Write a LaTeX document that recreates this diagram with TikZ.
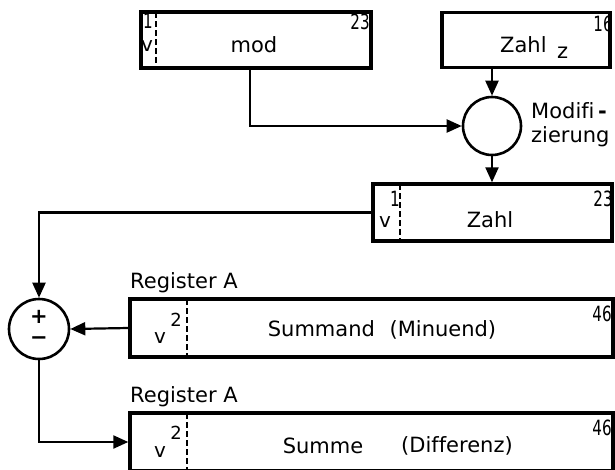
\documentclass[tikz,border=0pt]{standalone}
\usepackage{fontspec}
\setmainfont{DejaVu Sans}[Ligatures=NoCommon]
\newfontfamily\numfont[FakeStretch=0.72]{DejaVu Sans}
\usetikzlibrary{arrows.meta}
\begin{document}
\begin{tikzpicture}[x=1pt,y=-1pt,
  reg/.style={draw,line width=3.4pt,rectangle,inner sep=0pt},
  opc/.style={draw,line width=2.6pt,circle,inner sep=0pt,minimum size=58pt},
  conn/.style={line width=2.2pt},
  arr/.style={conn,-{Triangle[length=15pt,width=13pt]}},
  divider/.style={line width=2pt,dash pattern=on 6pt off 3pt},
  lbl/.style={inner sep=0pt,font=\fontsize{21}{25}\selectfont},
  small/.style={inner sep=0pt,font=\numfont\fontsize{21}{22}\selectfont},
  vlbl/.style={inner sep=0pt,font=\fontsize{20}{22}\selectfont},
  sign/.style={inner sep=0pt,font=\bfseries\fontsize{21}{22}\selectfont}]
\clip (0,0) rectangle (615,469);
\fill[white] (0,0) rectangle (615,469);

% boxes
\node[reg,minimum width=230pt,minimum height=56pt] (mod) at (256,40) {};
\node[reg,minimum width=168pt,minimum height=55pt] (zahlz) at (526,40) {};
\node[opc] (modi) at (492,126) {};
\node[reg,minimum width=239pt,minimum height=57pt] (zahl) at (492.5,212.5) {};
\node[opc,minimum size=60pt] (sum) at (39,329) {};
\node[reg,minimum width=483pt,minimum height=58pt] (summand) at (371.5,328) {};
\node[reg,minimum width=483pt,minimum height=58pt] (summe) at (371.5,442) {};

% dividers
\coordinate (d1t) at (156,12); \coordinate (d1b) at (156,68);
\draw[divider] (d1t) -- (d1b);
\coordinate (d2t) at (400,184); \coordinate (d2b) at (400,241);
\draw[divider] (d2t) -- (d2b);
\coordinate (d3t) at (187,299); \coordinate (d3b) at (187,357);
\draw[divider] (d3t) -- (d3b);
\coordinate (d4t) at (187,413); \coordinate (d4b) at (187,471);
\draw[divider] (d4t) -- (d4b);

% connectors
\draw[arr] ([xshift=-6pt]mod.south) |- (modi.west);
\draw[arr] (zahlz.south -| modi.north) -- (modi.north);
\draw[arr] (modi.south) -- (zahl.north -| modi.south);
\draw[arr] (zahl.west) -| (sum.north);
\draw[arr] (summand.west) -- (sum.east);
\draw[arr] (sum.south) |- (summe.west);

% texts: mod box
\node[small] (m1) at (148,21) {1};
\node[vlbl] (mv) at (147,46) {v};
\node[lbl] (mt) at (254,45) {mod};
\node[small] (m23) at (360,22) {23};

% Zahl z box
\node[small] (z16) at (603,24) {16};
\node[lbl,anchor=base west] (zt) at (500,52) {Zahl\hspace{0.5em}\raisebox{-6pt}{z}};

% Modifizierung
\node[lbl,anchor=west,align=left] (mz) at (531,125) {Modifi\,\textbf{-}\\[-1pt]zierung};

% Zahl box
\node[small] (a1) at (395,199) {1};
\node[vlbl] (av) at (385,222) {v};
\node[lbl] (at) at (490,220) {Zahl};
\node[small] (a23) at (603,199) {23};

% sum circle
\node[sign] (plus) at (39,317) {+};
\node[sign] (minus) at (39,341) {−};

% Register A labels
\node[lbl,anchor=west] (ra1) at (130,283) {Register A};
\node[lbl,anchor=west] (ra2) at (130,397) {Register A};

% Summand box
\node[inner sep=0pt,font=\fontsize{18}{20}\selectfont] (s2) at (176,320) {2};
\node[vlbl] (sv) at (160,338) {v};
\node[lbl] (st) at (382,330) {Summand\hspace{0.7em}(Minuend)};
\node[small] (s46) at (602,314) {46};

% Summe box
\node[inner sep=0pt,font=\fontsize{18}{20}\selectfont] (e2) at (176,433) {2};
\node[vlbl] (ev) at (160,452) {v};
\node[lbl] (et1) at (323,446) {Summe};
\node[lbl] (et2) at (457,446) {(Differenz)};
\node[small] (e46) at (602,428) {46};
\end{tikzpicture}
\end{document}
